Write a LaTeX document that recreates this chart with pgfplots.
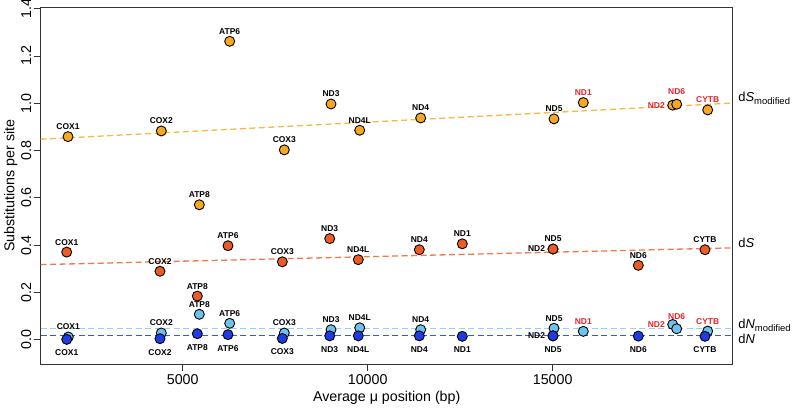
\documentclass[border=0pt]{standalone}
\usepackage{pgfplots}
\pgfplotsset{compat=1.18}
\usepackage{fontspec}
\setmainfont{Liberation Sans}
\definecolor{cSm}{RGB}{247,168,35}
\definecolor{cS}{RGB}{239,91,36}
\definecolor{cNm}{RGB}{108,196,238}
\definecolor{cN}{RGB}{31,59,229}
\definecolor{lSm}{RGB}{246,184,70}
\definecolor{lS}{RGB}{240,120,75}
\definecolor{lNm}{RGB}{140,214,240}
\definecolor{lN}{RGB}{55,85,232}
\definecolor{labred}{RGB}{232,34,42}

\pgfplotsset{
  genes/.style={
    only marks, mark=*, mark size=5bp,
    mark options={fill=#1, draw=black, line width=0.9bp},
    nodes near coords, point meta=explicit symbolic,
    every node near coord/.append style={font=\bfseries\fontsize{8.5}{9}\selectfont,
      inner sep=0pt, text=black},
  },
  lababove/.style={every node near coord/.append style={anchor=south, yshift=6.5bp}},
  labhigh/.style={every node near coord/.append style={anchor=south, yshift=9bp}},
  labbelow/.style={every node near coord/.append style={anchor=north, yshift=-10bp}},
  lableft/.style={every node near coord/.append style={anchor=east, xshift=-7.5bp}},
  redlab/.style={every node near coord/.append style={text=labred}},
  trend/.style={no marks, line width=1.3bp, dash pattern=on 6bp off 3.5bp, #1},
}

\begin{document}
\begin{tikzpicture}
\useasboundingbox (-40.7bp,-45bp) rectangle (752.3bp,364bp);
\begin{axis}[
  at={(0,0)}, anchor=south west,
  scale only axis, width=692bp, height=356.3bp,
  xmin=1162, xmax=19865, ymin=-0.102, ymax=1.404,
  xtick={5000,10000,15000},
  ytick={0,0.2,0.4,0.6,0.8,1.0,1.2,1.4},
  tick align=outside, tick pos=left,
  major tick length=7bp,
  axis line style={line width=0.9bp, black!80},
  every tick/.style={line width=0.9bp, black!80},
  scaled ticks=false,
  xticklabel style={/pgf/number format/set thousands separator={}, /pgf/number format/assume math mode=true},
  yticklabel style={/pgf/number format/fixed, /pgf/number format/fixed zerofill, /pgf/number format/precision=1, /pgf/number format/assume math mode=true},
  ticklabel style={font=\fontsize{14.3}{16}\selectfont},
  yticklabel style={xshift=1bp, rotate=90, anchor=south},
  every axis x label/.style={at={([yshift=-34bp]axis description cs:0.5,0)}, anchor=center},
  every axis y label/.style={at={([xshift=-30bp]axis description cs:0,0.5)}, rotate=90, anchor=center},
  label style={font=\fontsize{14.3}{16}\selectfont},
  xlabel={Average μ position (bp)},
  ylabel={Substitutions per site},
  clip=false,
]
% trend lines
\addplot[trend={lSm}] coordinates {(1162,0.848) (19865,1.001)};
\addplot[trend={lS}] coordinates {(1162,0.318) (19865,0.389)};
\addplot[trend={lNm}] coordinates {(1162,0.047) (19865,0.047)};
\addplot[trend={lN}] coordinates {(1162,0.017) (19865,0.017)};

% dS modified
\addplot[genes=cSm, lababove] table[meta=label] {
x y label
1900 0.859 COX1
4422 0.883 COX2
5449 0.571 ATP8
6270 1.262 ATP6
7746 0.803 COX3
9008 0.997 ND3
9784 0.886 ND4L
11432 0.938 ND4
15035 0.934 ND5
};
\addplot[genes=cSm, lababove, redlab] table[meta=label] {
x y label
15827 1.003 ND1
19189 0.972 CYTB
};
\addplot[genes=cSm, lableft, redlab] table[meta=label] {
x y label
18243 0.992 ND2
};
\addplot[genes=cSm, labhigh, redlab] table[meta=label] {
x y label
18351 0.996 ND6
};

% dS
\addplot[genes=cS, lababove] table[meta=label] {
x y label
1865 0.371 COX1
4386 0.290 COX2
5395 0.185 ATP8
6224 0.398 ATP6
7692 0.330 COX3
8973 0.428 ND3
9746 0.339 ND4L
11395 0.381 ND4
12557 0.406 ND1
15008 0.384 ND5
17314 0.315 ND6
19116 0.381 CYTB
};
\addplot[genes=cS, lableft] table[meta=label] {
x y label
15008 0.384 ND2
};

% dN modified
\addplot[genes=cNm, lababove] table[meta=label] {
x y label
1908 0.012 COX1
4422 0.029 COX2
5449 0.108 ATP8
6270 0.070 ATP6
7746 0.029 COX3
9008 0.043 ND3
9784 0.051 ND4L
11432 0.043 ND4
15035 0.049 ND5
};
\addplot[genes=cNm, lababove, redlab] table[meta=label] {
x y label
15827 0.036 ND1
19189 0.037 CYTB
};
\addplot[genes=cNm, lableft, redlab] table[meta=label] {
x y label
18243 0.065 ND2
};
\addplot[genes=cNm, labhigh, redlab] table[meta=label] {
x y label
18351 0.047 ND6
};

% dN
\addplot[genes=cN, labbelow] table[meta=label] {
x y label
1865 0.002 COX1
4386 0.005 COX2
5395 0.026 ATP8
6224 0.022 ATP6
7692 0.006 COX3
8973 0.017 ND3
9746 0.017 ND4L
11395 0.017 ND4
12557 0.015 ND1
15008 0.017 ND5
17314 0.016 ND6
19116 0.015 CYTB
};
\addplot[genes=cN, lableft] table[meta=label] {
x y label
15008 0.017 ND2
};

\node[anchor=base west, inner sep=0pt, font=\fontsize{13}{15}\selectfont] at ([xshift=5.5bp, yshift=1.3bp]axis cs:19865,1.001) {d\textit{S}\raisebox{-0.45ex}{\fontsize{9.5}{10}\selectfont modified}};
\node[anchor=base west, inner sep=0pt, font=\fontsize{13}{15}\selectfont] at ([xshift=5.5bp, yshift=0bp]axis cs:19865,0.389) {d\textit{S}};
\node[anchor=base west, inner sep=0pt, font=\fontsize{13}{15}\selectfont] at ([xshift=5.5bp, yshift=0bp]axis cs:19865,0.047) {d\textit{N}\raisebox{-0.45ex}{\fontsize{9.5}{10}\selectfont modified}};
\node[anchor=base west, inner sep=0pt, font=\fontsize{13}{15}\selectfont] at ([xshift=5.5bp, yshift=-7.6bp]axis cs:19865,0.017) {d\textit{N}};
\end{axis}
\end{tikzpicture}
\end{document}
